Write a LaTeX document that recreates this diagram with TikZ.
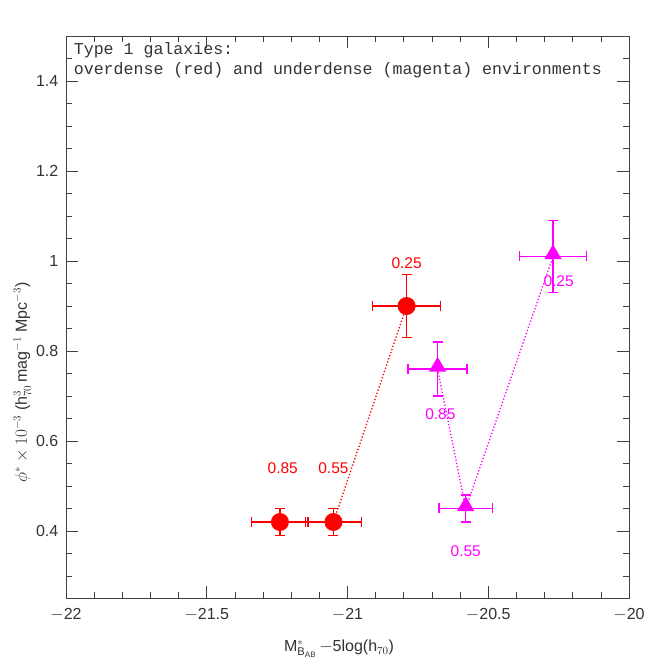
\documentclass[tikz,border=0pt]{standalone}
\usepackage{fontspec}
\setmainfont{Liberation Sans}
\setmonofont{Liberation Mono}
\usetikzlibrary{shapes.geometric}
\definecolor{mag}{RGB}{255,0,255}
\tikzset{
 ax/.style={line width=0.6pt,black!75},
 tl/.style={font=\fontsize{16}{16}\selectfont,text=black!80},
 lab/.style={font=\fontsize{15.5}{15}\selectfont},
 eb/.style={line width=1.3pt},
 dot/.style={circle,fill=red,inner sep=0pt,minimum size=18pt},
 tri/.style={regular polygon,regular polygon sides=3,fill=mag,inner sep=0pt,minimum size=20pt},
}
\newcommand{\ebar}[6]{% x y dx dy color name
 \draw[eb,#5] (#1-#3,#2) -- (#1+#3,#2);
 \draw[eb,#5] (#1,#2-#4) -- (#1,#2+#4);
 \draw[eb,#5] (#1-#3,#2) ++(0,-5pt) -- ++(0,10pt);
 \draw[eb,#5] (#1+#3,#2) ++(0,-5pt) -- ++(0,10pt);
 \draw[eb,#5] (#1,#2-#4) ++(-5pt,0) -- ++(10pt,0);
 \draw[eb,#5] (#1,#2+#4) ++(-5pt,0) -- ++(10pt,0);
}
\begin{document}
\begin{tikzpicture}
\useasboundingbox (0,0) rectangle (664pt,664pt);
\begin{scope}[x=281.5pt,y=450pt,shift={(6259pt,-47pt)}]
\draw[ax] (-22,0.25) rectangle (-20,1.5);
\foreach \v in {-21.9,-21.8,...,-20.05} {\draw[ax] (\v,0.25) -- ++(0,6pt); \draw[ax] (\v,1.5) -- ++(0,-6pt);}
\foreach \v in {-21.5,-21,-20.5} {\draw[ax] (\v,0.25) -- ++(0,12pt); \draw[ax] (\v,1.5) -- ++(0,-12pt);}
\foreach \w in {0.3,0.35,...,1.46} {\draw[ax] (-22,\w) -- ++(6pt,0); \draw[ax] (-20,\w) -- ++(-6pt,0);}
\foreach \w in {0.4,0.6,0.8,1,1.2,1.4} {\draw[ax] (-22,\w) -- ++(12pt,0); \draw[ax] (-20,\w) -- ++(-12pt,0);}
\foreach \v/\t in {-22/$-$22,-21.5/$-$21.5,-21/$-$21,-20.5/$-$20.5,-20/$-$20}
 \node[tl,below] (xl\t) at (\v,0.235) {\t};
\foreach \w in {0.4,0.6,0.8,1,1.2,1.4}
 \node[tl,left] (yl\w) at (-22.015,\w) {\w};
\node[font=\ttfamily\fontsize{16.6}{20}\selectfont,align=left,anchor=north west,text=black!80,inner sep=2pt] (leg) at (-21.98,1.49) {Type 1 galaxies:\\overdense (red) and underdense (magenta) environments};
\node[tl,rotate=90] (ylab) at (-22.155,0.73) {$\phi^*\times10^{-3}$ (h$^3_{70}$\,mag$^{-1}$ Mpc$^{-3}$)};
\node[tl] (xlab) at (-21.03,0.138) {M$^*_{\mathrm{B}_{\mathrm{AB}}}$\,$-$5log(h$_{70}$)};
% red
\ebar{-21.24}{0.42}{0.1}{0.03}{red}{}
\ebar{-21.05}{0.42}{0.1}{0.03}{red}{}
\ebar{-20.79}{0.90}{0.12}{0.07}{red}{}
\node[dot] (r1) at (-21.24,0.42) {};
\node[dot] (r2) at (-21.05,0.42) {};
\node[dot] (r3) at (-20.79,0.90) {};
\draw[red,dotted,line width=1.3pt] (r2.center) -- (r3.center);
\node[lab,red] (lr1) at (-21.23,0.54) {0.85};
\node[lab,red] (lr2) at (-21.05,0.54) {0.55};
\node[lab,red] (lr3) at (-20.79,0.995) {0.25};
% magenta
\ebar{-20.68}{0.76}{0.105}{0.06}{mag}{}
\ebar{-20.58}{0.45}{0.095}{0.03}{mag}{}
\ebar{-20.27}{1.01}{0.12}{0.08}{mag}{}
\draw[mag,dotted,line width=1.3pt] (-20.68,0.76) -- (-20.58,0.45) -- (-20.27,1.01);
\node[tri] (m1) at (-20.68,0.765) {};
\node[tri] (m2) at (-20.58,0.455) {};
\node[tri] (m3) at (-20.27,1.015) {};
\node[lab,mag] (lm1) at (-20.67,0.66) {0.85};
\node[lab,mag] (lm2) at (-20.58,0.355) {0.55};
\node[lab,mag] (lm3) at (-20.25,0.955) {0.25};
\end{scope}
\end{tikzpicture}
\end{document}
